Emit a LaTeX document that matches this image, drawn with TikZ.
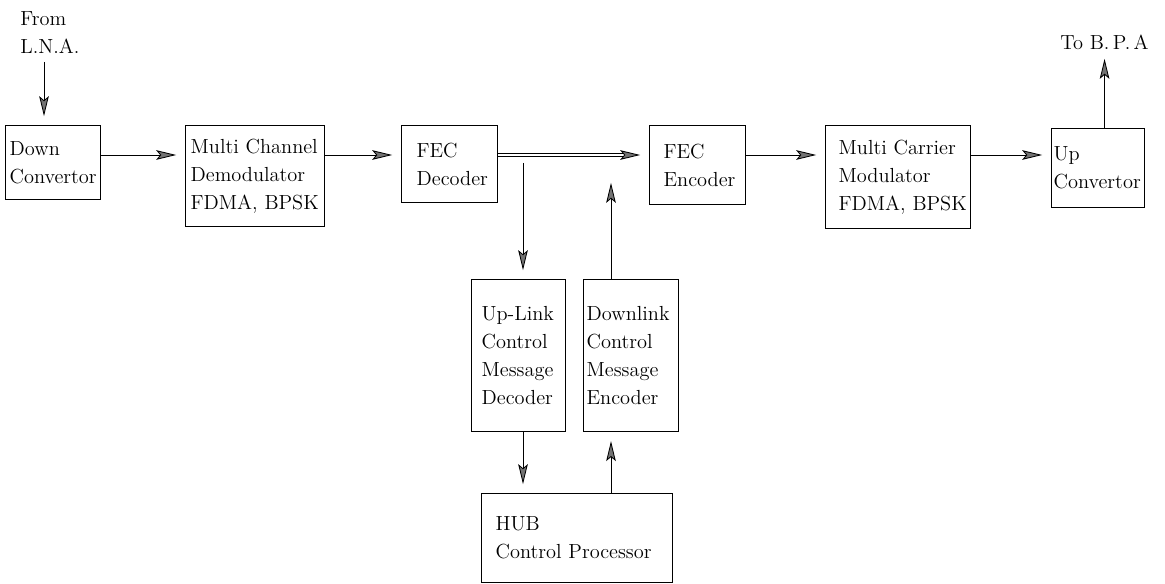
\documentclass[tikz,border=0pt]{standalone}
\usetikzlibrary{arrows.meta}

\newcommand{\pxu}{0.025cm}
\tikzset{
  blk/.style n args={3}{draw, line width=0.9pt, anchor=north west, align=left,
    inner ysep=0pt, inner xsep=#3*\pxu, text width=(#1-2*#3)*\pxu,
    minimum height=#2*\pxu},
  lbl/.style={inner sep=0pt, align=left},
}

\begin{document}
\begin{tikzpicture}[x=\pxu, y=-\pxu, font=\fontsize{14.5}{20}\selectfont,
    >={Stealth[length=0.5cm, width=0.24cm, inset=0.1cm, fill=black!55]},
    line width=0.6pt, shorten >=0.22cm]
  \useasboundingbox (0,0) rectangle (1165,584);

  \node[lbl, anchor=north west] (lna) at (20,11) {From\\L.N.A.};
  \node[blk={95}{74}{4}] (down) at (5,125) {Down\\Convertor};
  \node[blk={139}{101}{5}] (demod) at (185,125) {Multi~Channel\\Demodulator\\FDMA,~BPSK};
  \node[blk={96}{77}{15}] (fecdec) at (401,125) {FEC\\Decoder};
  \node[blk={96}{79}{14}] (fecenc) at (649,125) {FEC\\Encoder};
  \node[blk={145}{103}{13}] (mod) at (825,125) {Multi~Carrier\\Modulator\\FDMA,~BPSK};
  \node[blk={93}{79}{2}] (up) at (1051,128) {Up\\Convertor};
  \node[lbl, anchor=south west] (bpa) at (1060,50) {To B.\,P.\,A};
  \node[blk={94}{152}{10}] (updec) at (471,279) {Up-Link\\Control\\Message\\Decoder};
  \node[blk={95}{152}{3}] (dnenc) at (583,279) {Downlink\\Control\\Message\\Encoder};
  \node[blk={191}{89}{14}] (hub) at (481,493) {HUB\\Control~Processor};

  \coordinate (bus) at (0,155);
  \coordinate (lnain) at (44,62);
  \coordinate (split) at (523,163);
  \coordinate (join) at (611,174);

  \draw[->] (lnain) -- (lnain |- down.north);
  \draw[->] (down.east |- bus) -- (demod.west |- bus);
  \draw[->] (demod.east |- bus) -- (fecdec.west |- bus);
  \draw[->, double, double distance=0.06cm] (fecdec.east |- bus) -- (fecenc.west |- bus);
  \draw[->] (fecenc.east |- bus) -- (mod.west |- bus);
  \draw[->] (mod.east |- bus) -- (up.west |- bus);
  \draw[->] (up.north -| bpa.south) -- (bpa.south);
  \draw[->] (split) -- (split |- updec.north);
  \draw[->] (dnenc.north -| join) -- (join);
  \draw[->] (updec.south -| split) -- (split |- hub.north);
  \draw[->] (hub.north -| join) -- (join |- dnenc.south);
\end{tikzpicture}
\end{document}
